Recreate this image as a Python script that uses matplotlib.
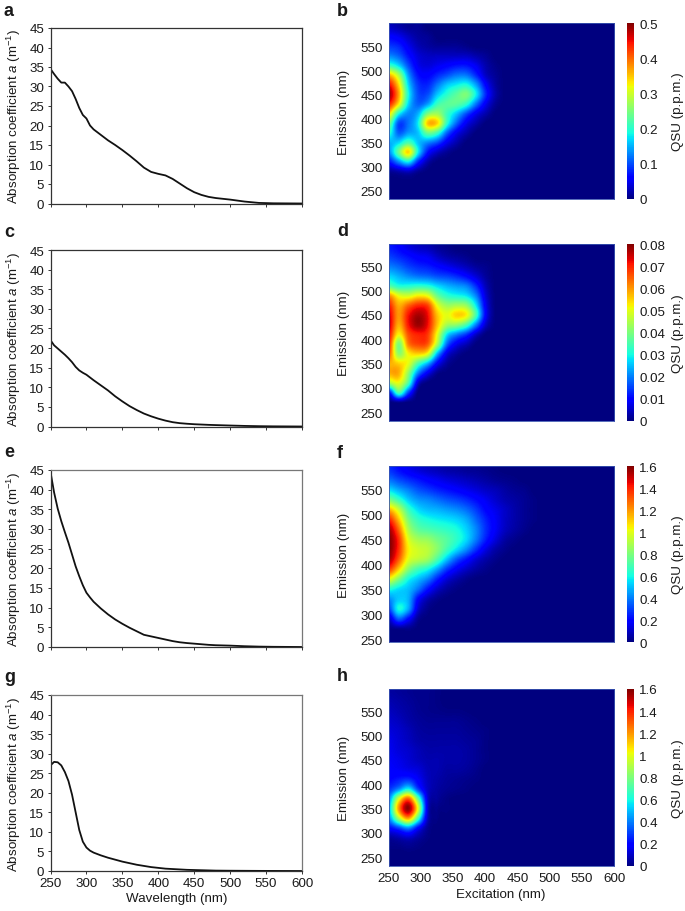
import numpy as np
import matplotlib
matplotlib.use('Agg')
import matplotlib.pyplot as plt

plt.rcParams['font.family'] = ['Liberation Sans', 'DejaVu Sans']
plt.rcParams['mathtext.fontset'] = 'custom'
plt.rcParams['mathtext.rm'] = 'Liberation Sans'
plt.rcParams['mathtext.it'] = 'Liberation Sans:italic'
plt.rcParams['mathtext.default'] = 'regular'

wavelength = [250,255,260,265,270,275,280,285,290,295,300,305,310,320,330,340,350,360,370,380,
              390,400,410,420,430,440,450,460,470,480,500,520,540,560,600]
abs_a = [34.5,33.2,32.0,31.0,31.0,30.0,28.8,26.8,24.5,22.7,21.8,20.0,19.0,17.6,16.2,15.0,13.7,12.3,10.8,9.2,
         8.1,7.6,7.2,6.3,5.1,3.9,2.9,2.2,1.7,1.4,1.0,.5,.15,.05,0]
abs_c = [22,20.7,19.9,19.1,18.3,17.4,16.4,15.2,14.3,13.7,13.2,12.5,11.8,10.5,9.2,7.7,6.4,5.2,4.2,3.3,
         2.6,2.0,1.5,1.1,.85,.7,.58,.5,.42,.36,.25,.15,.08,.04,0]
abs_e = [44.5,39.3,35.2,32,29.2,26.5,23.5,20.5,18,15.7,13.8,12.6,11.5,9.8,8.3,7,5.9,4.9,4,3.1,
         2.7,2.3,1.9,1.5,1.2,1,.85,.7,.55,.45,.35,.2,.1,.05,0]
abs_g = [27,27.9,27.8,27,25.3,23,19.5,15,10.5,7.5,6,5.2,4.7,4,3.4,2.9,2.4,2,1.6,1.3,
         1,.8,.6,.5,.4,.3,.25,.2,.15,.1,.07,.05,.03,.02,0]

# Excitation columns 250, 265, 280, ... nm; emission rows 590, 570, ... 230 nm
ex_nodes = np.arange(250, 625, 15)
em_nodes = np.arange(590, 210, -20)

eem_b = [
 [.03,.02,.01,.01],
 [.06,.05,.03,.015,.01],
 [.09,.08,.05,.025,.015,.01,.01,.01,.005],
 [.13,.11,.07,.04,.03,.03,.03,.03,.03,.02,.01],
 [.21,.17,.10,.05,.04,.05,.06,.07,.07,.05,.02,.005],
 [.36,.28,.14,.07,.06,.08,.10,.12,.12,.08,.03,.01],
 [.45,.34,.17,.09,.08,.12,.16,.18,.19,.14,.06,.015],
 [.49,.37,.19,.10,.10,.16,.20,.23,.25,.18,.08,.02],
 [.44,.33,.17,.11,.14,.21,.23,.23,.20,.12,.05,.01],
 [.34,.19,.13,.15,.25,.27,.21,.16,.10,.05,.02],
 [.25,.10,.12,.18,.35,.34,.20,.11,.05,.02],
 [.20,.11,.14,.16,.24,.21,.11,.05,.02],
 [.15,.17,.22,.16,.13,.10,.05,.02],
 [.13,.24,.34,.18,.07,.03,.01],
 [.07,.13,.18,.08,.02],
 [.01,.02,.03,.01],
 [], [], [],
]
eem_d = [
 [.012,.01,.007,.005,.004,.002,.001],
 [.015,.013,.011,.009,.008,.005,.003,.002,.001],
 [.02,.018,.015,.013,.012,.01,.008,.006,.004,.002,.001],
 [.027,.024,.021,.019,.018,.016,.015,.013,.01,.006,.002],
 [.036,.031,.031,.032,.031,.027,.024,.022,.02,.013,.004],
 [.06,.05,.048,.052,.05,.038,.032,.03,.028,.02,.006],
 [.07,.058,.064,.069,.067,.05,.043,.044,.042,.028,.008],
 [.074,.06,.071,.077,.072,.056,.05,.055,.052,.034,.009],
 [.075,.058,.071,.078,.072,.056,.044,.042,.035,.02,.005],
 [.072,.052,.066,.07,.068,.05,.028,.02,.014,.005],
 [.069,.04,.062,.067,.065,.044,.018,.008,.004],
 [.065,.042,.052,.055,.05,.024,.007,.002],
 [.058,.055,.05,.035,.024,.009,.002],
 [.058,.058,.042,.02,.008,.001],
 [.044,.05,.035,.006],
 [.01,.035,.015],
 [0,.001], [], [],
]
eem_f = [
 [.28,.22,.17,.13,.10,.08,.06,.05,.035,.03,.02,.01],
 [.38,.32,.27,.23,.19,.16,.13,.11,.09,.07,.05,.03,.02,.01],
 [.55,.47,.40,.33,.29,.25,.22,.19,.16,.13,.10,.08,.05,.03,.02],
 [.8,.67,.52,.44,.41,.37,.33,.30,.26,.21,.16,.11,.07,.05,.03,.01],
 [1.15,.95,.68,.55,.50,.48,.45,.42,.37,.29,.20,.15,.10,.06,.03,.01],
 [1.4,1.13,.8,.66,.61,.58,.56,.53,.47,.36,.25,.17,.10,.06,.03,.01],
 [1.55,1.28,.9,.75,.71,.68,.65,.61,.53,.41,.27,.17,.09,.05,.02],
 [1.6,1.38,1.0,.88,.85,.78,.72,.64,.54,.39,.24,.13,.05,.02],
 [1.6,1.38,1.05,.96,.92,.82,.68,.55,.42,.27,.14,.06,.02],
 [1.55,1.3,1.0,.92,.86,.7,.5,.33,.22,.12,.06,.02],
 [1.35,1.1,.82,.68,.6,.45,.28,.17,.1,.05,.02],
 [1.0,.8,.6,.5,.4,.24,.12,.06,.02],
 [.62,.55,.5,.38,.22,.1,.04,.01],
 [.42,.52,.48,.2,.07,.02],
 [.3,.6,.46,.12,.02],
 [.1,.34,.2,.03],
 [.01,.02,.02],
 [], [],
]
eem_h = [
 [.05,.04,.03,.02,.02,.01],
 [.07,.055,.04,.025,.02,.01],
 [.09,.07,.05,.03,.02,.015,.01,.01,.005],
 [.11,.09,.06,.04,.03,.03,.03,.03,.02,.01],
 [.13,.11,.08,.05,.04,.04,.04,.04,.03,.02,.01],
 [.15,.12,.09,.06,.05,.05,.05,.05,.04,.03,.01],
 [.16,.13,.11,.08,.06,.06,.06,.06,.05,.03,.01],
 [.17,.15,.12,.09,.07,.07,.06,.06,.05,.03,.01],
 [.18,.17,.15,.13,.08,.07,.05,.05,.04,.02],
 [.2,.24,.27,.18,.09,.06,.04,.03,.02,.01],
 [.28,.42,.6,.3,.10,.05,.03,.02,.01],
 [.42,.98,1.3,.75,.12,.04,.01],
 [.5,1.2,1.58,1.0,.12,.02,.01],
 [.42,.88,1.18,.68,.09,.01],
 [.2,.3,.42,.2,.03],
 [.04,.07,.1,.05,.01],
 [.01,.01,.02,.01],
 [], [],
]

absorption_series = [abs_a, abs_c, abs_e, abs_g]
eem_series = [eem_b, eem_d, eem_f, eem_h]
vmaxes = [0.5, 0.08, 1.6, 1.6]
cbar_ticks = [
    [0, .1, .2, .3, .4, .5],
    [0, .01, .02, .03, .04, .05, .06, .07, .08],
    [0, .2, .4, .6, .8, 1, 1.2, 1.4, 1.6],
    [0, .2, .4, .6, .8, 1, 1.2, 1.4, 1.6],
]
cbar_labels = [
    ['0', '0.1', '0.2', '0.3', '0.4', '0.5'],
    ['0', '0.01', '0.02', '0.03', '0.04', '0.05', '0.06', '0.07', '0.08'],
    ['0', '0.2', '0.4', '0.6', '0.8', '1', '1.2', '1.4', '1.6'],
    ['0', '0.2', '0.4', '0.6', '0.8', '1', '1.2', '1.4', '1.6'],
]
em_limits = [(233, 598), (232, 596), (244, 598), (232, 596)]
left_letters = ['a', 'c', 'e', 'g']
right_letters = ['b', 'd', 'f', 'h']
frame_colors = ['#333333', '#333333', '#777777', '#777777']

W, H = 685, 912
FS = 9.6
TXT = '#1a1a1a'
left_rows = [(29, 204.5), (251, 427.5), (471, 648), (696, 872)]
right_rows = [(24, 200), (245, 422), (467, 643), (690, 867)]


def box(x0, x1, top, bottom):
    return [x0 / W, 1 - bottom / H, (x1 - x0) / W, (bottom - top) / H]


fig = plt.figure(figsize=(W / 100, H / 100), dpi=100, facecolor='white')

for i in range(4):
    ax = fig.add_axes(box(50.5, 302, *left_rows[i]))
    ax.plot(wavelength, absorption_series[i], color='#111111', lw=1.3)
    ax.set_xlim(250, 600)
    ax.set_ylim(0, 45)
    ax.set_xticks(range(250, 601, 50))
    ax.set_yticks(range(0, 46, 5))
    ax.tick_params(length=2.5, width=0.7, labelsize=FS, pad=2, colors='#333333', labelcolor=TXT)
    if i < 3:
        ax.set_xticklabels([])
    else:
        ax.set_xlabel('Wavelength (nm)', fontsize=FS, color=TXT, labelpad=2)
    for s in ax.spines.values():
        s.set_linewidth(0.9)
        s.set_color('#333333')
    ax.spines['top'].set_color(frame_colors[i])
    ax.spines['right'].set_color(frame_colors[i])
    fig.text(13.5 / W, 1 - (left_rows[i][0] + left_rows[i][1]) / 2 / H,
             r'Absorption coefficient $\mathit{a}$ (m$^{-1}$)',
             rotation=90, ha='center', va='center', fontsize=FS, color=TXT)
    fig.text(4 / W, 1 - (left_rows[i][0] - 18) / H, left_letters[i], fontsize=13,
             fontweight='bold', color=TXT, ha='left', va='center')

    ax2 = fig.add_axes(box(388.5, 614, *right_rows[i]))
    grid = np.zeros((len(em_nodes), len(ex_nodes)))
    for r, row in enumerate(eem_series[i]):
        grid[r, :len(row)] = row
    im = ax2.imshow(grid, cmap='jet', vmin=0, vmax=vmaxes[i], aspect='auto',
                    interpolation='catrom', interpolation_stage='data',
                    extent=[ex_nodes[0] - 7.5, ex_nodes[-1] + 7.5, em_nodes[-1] - 10, em_nodes[0] + 10])
    ax2.set_xlim(250, 600)
    ax2.set_ylim(*em_limits[i])
    ax2.set_yticks(range(250, 551, 50))
    ax2.set_xticks(range(250, 601, 50))
    ax2.tick_params(length=0, labelsize=FS, pad=4, labelcolor=TXT)
    if i < 3:
        ax2.set_xticklabels([])
    else:
        ax2.set_xlabel('Excitation (nm)', fontsize=FS, color=TXT, labelpad=3)
    for s in ax2.spines.values():
        s.set_linewidth(0.6)
        s.set_color('#3a55b0')
    fig.text(344 / W, 1 - (right_rows[i][0] + right_rows[i][1]) / 2 / H, 'Emission (nm)',
             rotation=90, ha='center', va='center', fontsize=FS, color=TXT)
    fig.text(337 / W, 1 - (right_rows[i][0] - 13) / H, right_letters[i], fontsize=13,
             fontweight='bold', color=TXT, ha='left', va='center')

    cax = fig.add_axes(box(626.5, 633.5, *right_rows[i]))
    cb = fig.colorbar(im, cax=cax)
    cb.set_ticks(cbar_ticks[i])
    cb.set_ticklabels(cbar_labels[i])
    cb.ax.tick_params(length=0, labelsize=FS, pad=4, labelcolor=TXT)
    cb.outline.set_visible(False)
    fig.text(678 / W, 1 - (right_rows[i][0] + right_rows[i][1]) / 2 / H, 'QSU (p.p.m.)',
             rotation=90, ha='center', va='center', fontsize=FS, color=TXT)

fig.savefig('out.png', dpi=100)
